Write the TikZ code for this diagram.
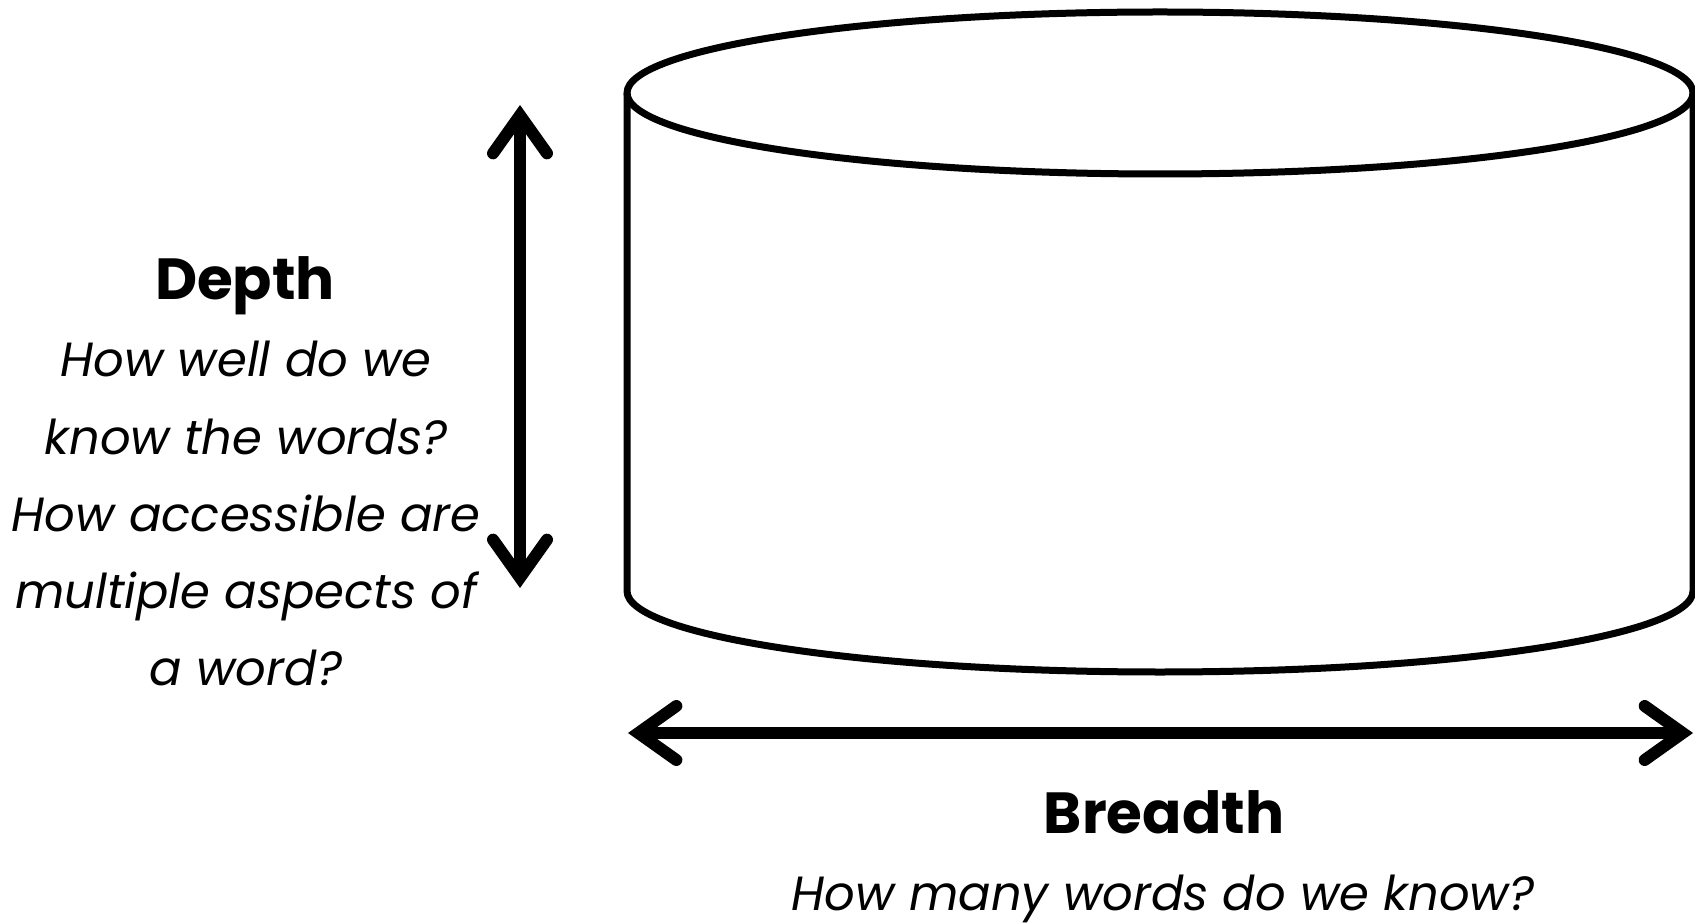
\documentclass[tikz,border=0pt]{standalone}
\usepackage{fontspec}
\setmainfont{Poppins}
\usetikzlibrary{arrows.meta}
\begin{document}
\begin{tikzpicture}[x=0.5pt,y=-0.5pt,
  cyl/.style={line width=3.5pt, line join=round},
  barb/.tip={Straight Barb[length=19pt,width=27pt,line cap=round,line join=miter]},
  dim/.style={line width=6pt, barb-barb},
  title/.style={font=\bfseries\fontsize{29}{38}\selectfont, anchor=base, inner sep=0pt},
  sub/.style={font=\itshape\fontsize{24}{38}\selectfont, anchor=base, inner sep=0pt}]
\useasboundingbox (0,0) rectangle (1695,924);
% cylinder
\coordinate (tl) at (627,93);
\coordinate (tr) at (1693,93);
\coordinate (bl) at (627,591);
\coordinate (br) at (1693,591);
\draw[cyl] (tl) -- (bl) arc[start angle=180, end angle=0, x radius=533, y radius=81] -- (tr);
\draw[cyl] (1160,93) ellipse[x radius=533, y radius=81];
% arrows
\coordinate (vt) at (520,105);
\coordinate (vb) at (520,588);
\draw[dim] (vt) -- (vb);
\coordinate (hl) at (628,733);
\coordinate (hr) at (1693,733);
\draw[dim] (hl) -- (hr);
% depth text
\node[title] (depth) at (245,300) {Depth};
\node[sub] (d1) at (246,377) {How well do we};
\node[sub] (d2) at (246,454) {know the words?};
\node[sub] (d3) at (246,531) {How accessible are};
\node[sub] (d4) at (246,608) {multiple aspects of};
\node[sub] (d5) at (246,685) {a word?};
% breadth text
\node[title] (breadth) at (1164,833) {Breadth};
\node[sub] (b1) at (1163,910) {How many words do we know?};
\end{tikzpicture}
\end{document}
